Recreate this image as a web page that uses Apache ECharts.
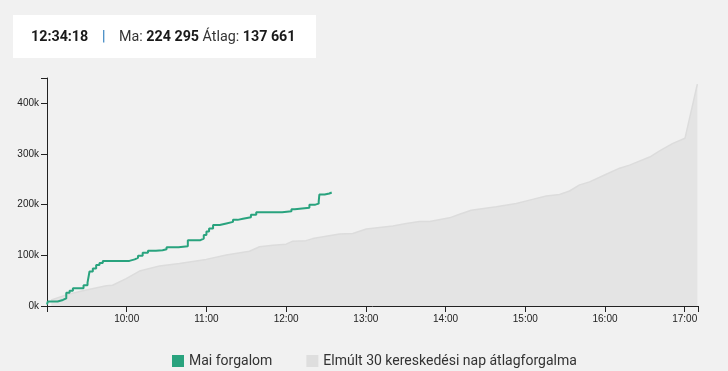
<!DOCTYPE html>
<html><head><meta charset="utf-8">
<script src="https://cdn.jsdelivr.net/npm/echarts@6/dist/echarts.min.js"></script>
<style>html,body{margin:0;padding:0;background:#f1f1f1;}#c{width:728px;height:371px;}</style>
</head><body><div id="c"></div>
<script>
// minutes since 09:00, value in thousands
const todayPoints = [[0,3],[0.6,9],[8,12],[12,15],[14.5,26],[17,30],[19.5,35],[27.5,41],[30.5,46],[32,68],[34.5,74],[37,81],[39.5,85],[42,89],[62,92],[66,95],[68.5,99],[72,105],[76,109],[82,110],[87,112],[90,116],[99,118],[106,130],[115.5,133],[118,140],[120,147],[122,153],[125,160],[130,163],[135,166],[140,170],[143.5,172],[147.5,175],[153.5,180],[157.5,185],[177,187],[184,191],[186.5,194],[197.5,200],[202,202],[204.5,206],[205,220],[209,222],[212.5,224],[214.3,224.3]];
const avgPoints = [[3.2,12],[14.5,22],[27,30],[44.6,40],[49.3,41],[59.6,54],[69.6,69],[84.7,79],[99.7,84],[119.8,92],[134.9,100.6],[152.4,108],[160,117],[170,120],[180,122],[185,128],[195,129],[200,133],[220.2,142],[230.2,143],[240.3,152],[260.3,158],[270.4,163],[280.4,167],[288,167],[303,174],[310.5,181],[319.3,189],[338.2,196],[353.2,202.5],[363.2,209],[375.8,217],[385.8,220],[393.3,227],[400.9,239],[408.4,245],[420.9,260],[431,272],[438.5,278],[453.6,294],[461.1,306],[471.1,321],[480.2,331],[489.5,438]];
const seriesNames = ['Mai forgalom','Elmúlt 30 kereskedési nap átlagforgalma'];
const headerTime = '12:34:18';
const headerToday = '224 295';
const headerAvg = '137 661';

const chart = echarts.init(document.getElementById('c'), null, {renderer:'canvas'});
const axisFont = {fontFamily:'Liberation Sans, Arial, sans-serif', fontSize:10, color:'#222'};
const hb = {fontFamily:'Roboto',fontSize:14.3,fontWeight:'bold',fill:'#1a1a1a'};
const hr = {fontFamily:'Roboto',fontSize:14.3,fill:'#333'};
chart.setOption({
  backgroundColor:'#f1f1f1',
  animation:false,
  grid:{left:47,right:30,top:78,bottom:65},
  legend:{
    data:[seriesNames[0],seriesNames[1]],
    left:167, top:349, itemWidth:12, itemHeight:12, itemGap:34, icon:'rect',
    textStyle:{fontFamily:'Roboto',fontSize:14,color:'#333'}
  },
  graphic:[
    {type:'rect', shape:{x:13,y:15,width:303,height:43}, style:{fill:'#fff'}},
    {type:'text', x:31, y:37, style:Object.assign({text:headerTime, verticalAlign:'middle'},hb)},
    {type:'text', x:102, y:37, style:{text:'|', verticalAlign:'middle', fontFamily:'Roboto', fontSize:14.3, fill:'#1f74b8'}},
    {type:'text', x:119, y:37, style:{
      text:'{r|Ma: }{b|'+headerToday+'}{r| Átlag: }{b|'+headerAvg+'}',
      verticalAlign:'middle',
      rich:{b:hb, r:hr}
    }}
  ],
  xAxis:{
    type:'value', min:0, max:490, interval:60,
    axisLine:{lineStyle:{color:'#222',width:1}},
    axisTick:{length:6,lineStyle:{color:'#222'}},
    splitLine:{show:false},
    axisLabel:Object.assign({margin:8, formatter:v=> (v>0 && v<490 && v%60===0) ? (9+v/60)+':00' : ''},axisFont)
  },
  yAxis:{
    type:'value', min:0, max:450, interval:100,
    axisLine:{show:true,lineStyle:{color:'#222',width:1}},
    axisTick:{show:true,length:6,lineStyle:{color:'#222'}},
    splitLine:{show:false},
    axisLabel:Object.assign({margin:8, formatter:v=> v%100===0 ? v+'k' : ''},axisFont)
  },
  series:[
    {name:seriesNames[1], type:'line', data:avgPoints, symbol:'none', z:1,
     itemStyle:{color:'#dedede'},
     lineStyle:{color:'#dcdcdc',width:1.5},
     areaStyle:{color:'#e4e4e4',opacity:1}},
    {name:seriesNames[0], type:'line', step:'end', data:todayPoints, symbol:'none', z:3,
     itemStyle:{color:'#29a37e'},
     lineStyle:{color:'#29a37e',width:2}}
  ]
});
</script></body></html>
